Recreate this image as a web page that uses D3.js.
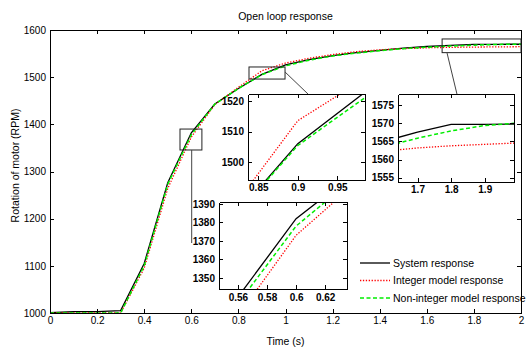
<!DOCTYPE html>
<html>
<head>
<meta charset="utf-8">
<script src="https://cdn.jsdelivr.net/npm/d3@7"></script>
<style>
  body { margin: 0; background: #fff; }
  text { font-family: "Liberation Sans", Arial, sans-serif; }
</style>
</head>
<body>
<div id="chart"></div>
<script>
var time = [0, 0.1, 0.2, 0.3, 0.4, 0.5, 0.6, 0.7, 0.8, 0.9, 1.0, 1.1, 1.2, 1.3, 1.4, 1.5, 1.6, 1.7, 1.8, 1.9, 2.0];
var systemResp  = [1000.5, 1003, 1003, 1005, 1105, 1276, 1382, 1443, 1476, 1506, 1526, 1537, 1545.5, 1552, 1557, 1561.5, 1565, 1567.6, 1569.7, 1569.7, 1569.8];
var integerResp = [1000, 1000, 1000, 1000, 1095, 1264, 1373, 1442, 1478.6, 1513.6, 1530, 1540, 1548, 1554, 1558, 1560.5, 1562.3, 1563.2, 1563.8, 1564.2, 1564.6];
var nonIntResp  = [1000, 1000, 1000, 1000, 1100, 1273, 1378, 1443, 1476, 1505.4, 1524, 1536, 1545, 1551, 1556, 1560.5, 1563.5, 1565.9, 1567.9, 1569.4, 1570.1];

var seriesNames = ["System response", "Integer model response", "Non-integer model response"];

var xTicksMain = [0, 0.2, 0.4, 0.6, 0.8, 1, 1.2, 1.4, 1.6, 1.8, 2];
var yTicksMain = [1000, 1100, 1200, 1300, 1400, 1500, 1600];

// zoomed insets: domains and ticks
var inset1X = [0.547, 0.635], inset1Y = [1344, 1391];
var inset1XTicks = [0.56, 0.58, 0.6, 0.62], inset1YTicks = [1350, 1360, 1370, 1380, 1390];
var inset2X = [0.837, 0.985], inset2Y = [1494, 1522.4];
var inset2XTicks = [0.85, 0.9, 0.95], inset2YTicks = [1500, 1510, 1520];
var inset3X = [1.642, 1.987], inset3Y = [1553.8, 1578.1];
var inset3XTicks = [1.7, 1.8, 1.9], inset3YTicks = [1555, 1560, 1565, 1570, 1575];

// zoom rectangles on the main plot [t0, t1, y0, y1]
var zoomRects = [[0.552, 0.645, 1345.6, 1390], [0.845, 0.998, 1496, 1521.6], [1.665, 2.0, 1552, 1581]];
// connector lines [t0, y0, t1, y1]
var connectors = [[0.6017, 1345.6, 0.6017, 1148.4], [0.998, 1511, 1.0955, 1464.3], [1.686, 1551.2, 1.728, 1464.3]];

var W = 527, H = 348;
var margin = {top: 30, right: 6, bottom: 35, left: 50},
    width = W - margin.left - margin.right,
    height = H - margin.top - margin.bottom;

var svgRoot = d3.select("#chart").append("svg")
    .attr("width", W).attr("height", H);

var svg = svgRoot.append("g")
    .attr("transform", "translate(" + margin.left + "," + margin.top + ")");

var styles = [
  {color: "#000000", dash: null, w: 1.3},
  {color: "#ff0000", dash: "1.3,1.6", w: 1.3},
  {color: "#00ee00", dash: "4,2.5", w: 1.5}
];
var allSeries = [systemResp, integerResp, nonIntResp];

function fmtTick(d) { return String(+d.toFixed(3)); }

// draws a box-style axes with inward ticks
function drawAxes(g, x, y, xt, yt, bold, padX, padY) {
  var w = x.range()[1], h = y.range()[0];
  var fw = bold ? "bold" : "normal";
  var gx = g.append("g").attr("transform", "translate(0," + h + ")")
    .call(d3.axisBottom(x).tickValues(xt).tickFormat(fmtTick).tickSize(-4).tickSizeOuter(0).tickPadding(padX));
  var gy = g.append("g")
    .call(d3.axisLeft(y).tickValues(yt).tickFormat(fmtTick).tickSize(-4).tickSizeOuter(0).tickPadding(padY));
  g.append("g")
    .call(d3.axisTop(x).tickValues(xt).tickFormat("").tickSize(-4).tickSizeOuter(0));
  g.append("g").attr("transform", "translate(" + w + ",0)")
    .call(d3.axisRight(y).tickValues(yt).tickFormat("").tickSize(-4).tickSizeOuter(0));
  g.selectAll(".domain, .tick line").attr("stroke", "#000").attr("shape-rendering", "crispEdges");
  g.selectAll("text").attr("font-size", "10px").attr("font-weight", fw)
    .attr("font-family", "'Liberation Sans', Arial, sans-serif").attr("fill", "#000");
}

function drawCurves(g, x, y, clipId) {
  var line = d3.line()
    .x(function(d, i) { return x(time[i]); })
    .y(function(d) { return y(d); });
  var cg = g.append("g").attr("clip-path", "url(#" + clipId + ")");
  allSeries.forEach(function(s, k) {
    cg.append("path")
      .datum(s)
      .attr("fill", "none")
      .attr("stroke", styles[k].color)
      .attr("stroke-width", styles[k].w)
      .attr("stroke-dasharray", styles[k].dash)
      .attr("d", line);
  });
}

var defs = svgRoot.append("defs");
function addClip(id, w, h) {
  defs.append("clipPath").attr("id", id).append("rect")
    .attr("x", 0).attr("y", 0).attr("width", w).attr("height", h);
}

// main plot
var x = d3.scaleLinear().domain([0, 2]).range([0, width]);
var y = d3.scaleLinear().domain([1000, 1600]).range([height, 0]);
addClip("clipMain", width, height);
drawCurves(svg, x, y, "clipMain");
drawAxes(svg, x, y, xTicksMain, yTicksMain, false, 4, 4);

// zoom rectangles + connectors
svg.selectAll(".zr").data(zoomRects).enter().append("rect")
  .attr("x", function(d) { return x(d[0]); })
  .attr("y", function(d) { return y(d[3]); })
  .attr("width", function(d) { return x(d[1]) - x(d[0]); })
  .attr("height", function(d) { return y(d[2]) - y(d[3]); })
  .attr("fill", "none").attr("stroke", "#222").attr("stroke-width", 1);

svg.selectAll(".cn").data(connectors).enter().append("line")
  .attr("x1", function(d) { return x(d[0]); })
  .attr("y1", function(d) { return y(d[1]); })
  .attr("x2", function(d) { return x(d[2]); })
  .attr("y2", function(d) { return y(d[3]); })
  .attr("stroke", "#444").attr("stroke-width", 1);

// insets (pixel boxes)
var insets = [
  {left: 219, top: 202, right: 347, bottom: 289, xd: inset1X, yd: inset1Y, xt: inset1XTicks, yt: inset1YTicks, px: 5},
  {left: 248, top: 94, right: 365, bottom: 180, xd: inset2X, yd: inset2Y, xt: inset2XTicks, yt: inset2YTicks, px: 4},
  {left: 398, top: 94, right: 514, bottom: 182, xd: inset3X, yd: inset3Y, xt: inset3XTicks, yt: inset3YTicks, px: 4}
];

insets.forEach(function(ins, k) {
  var w = ins.right - ins.left, h = ins.bottom - ins.top;
  var g = svgRoot.append("g").attr("transform", "translate(" + ins.left + "," + ins.top + ")");
  g.append("rect").attr("width", w).attr("height", h).attr("fill", "#fff");
  var ix = d3.scaleLinear().domain(ins.xd).range([0, w]);
  var iy = d3.scaleLinear().domain(ins.yd).range([h, 0]);
  addClip("clipInset" + k, w, h);
  drawCurves(g, ix, iy, "clipInset" + k);
  drawAxes(g, ix, iy, ins.xt, ins.yt, true, ins.px, 4);
});

// legend
var legend = svgRoot.append("g").attr("transform", "translate(360,263)");
seriesNames.forEach(function(name, k) {
  var row = legend.append("g").attr("transform", "translate(0," + (k * 17.5) + ")");
  row.append("line").attr("x1", 0).attr("x2", 30).attr("y1", 0).attr("y2", 0)
    .attr("stroke", styles[k].color)
    .attr("stroke-width", styles[k].w)
    .attr("stroke-dasharray", styles[k].dash);
  row.append("text").attr("x", 33).attr("y", 0).attr("dy", "0.35em")
    .attr("font-size", "10.5px").attr("fill", "#000").text(name);
});

// title
svg.append("text")
  .attr("x", width / 2).attr("y", -10)
  .attr("text-anchor", "middle")
  .attr("font-size", "10.5px")
  .text("Open loop response");

// axis labels
svg.append("text")
  .attr("transform", "translate(" + (width / 2) + "," + (height + 32) + ")")
  .attr("text-anchor", "middle")
  .attr("font-size", "10.5px")
  .text("Time (s)");

svg.append("text")
  .attr("transform", "rotate(-90)")
  .attr("x", -(height / 2) + 6)
  .attr("y", -31)
  .attr("text-anchor", "middle")
  .attr("font-size", "10.5px")
  .text("Rotation of motor (RPM)");
</script>
</body>
</html>
